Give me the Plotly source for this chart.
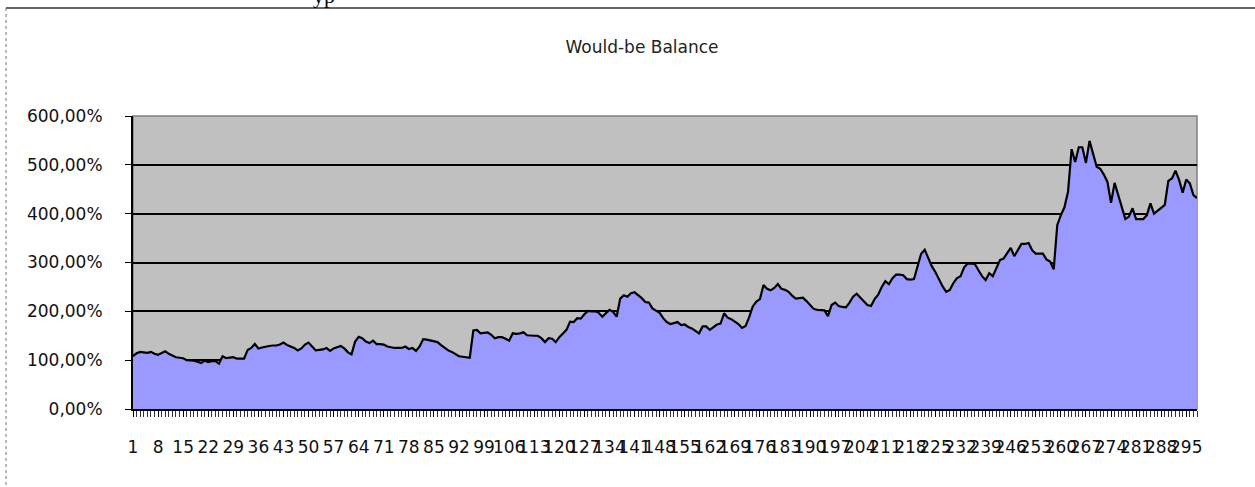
import plotly.graph_objects as go

# Would-be balance, in percent, one value per trading period (1..298)
balance_pct = [
    108, 114, 117, 116, 115, 117, 113, 111, 115, 118,
    113, 109, 106, 105, 104, 100, 100, 99, 97, 94,
    99, 96, 98, 98, 93, 108, 104, 105, 106, 103,
    103, 103, 121, 125, 133, 124, 126, 128, 129, 130,
    130, 132, 136, 131, 128, 125, 120, 124, 132, 136,
    128, 120, 121, 122, 125, 119, 124, 127, 129, 124,
    116, 112, 138, 148, 145, 138, 135, 140, 133, 133,
    132, 128, 126, 125, 125, 125, 128, 123, 125, 119,
    128, 143, 142, 140, 139, 137, 131, 126, 120, 117,
    112, 108, 107, 106, 105, 161, 162, 155, 156, 157,
    152, 145, 147, 147, 144, 140, 155, 154, 155, 157,
    151, 150, 150, 150, 145, 137, 145, 144, 137, 147,
    154, 162, 179, 178, 186, 185, 194, 201, 200, 200,
    197, 189, 196, 203, 199, 189, 226, 233, 230, 237,
    239, 233, 227, 219, 218, 206, 201, 197, 186, 178,
    174, 176, 178, 172, 173, 168, 165, 160, 155, 169,
    169, 162, 167, 173, 175, 196, 187, 184, 179, 174,
    166, 170, 188, 210, 220, 225, 254, 246, 243, 248,
    256, 246, 244, 240, 232, 226, 227, 228, 221, 214,
    205, 203, 202, 202, 190, 213, 218, 211, 209, 208,
    218, 230, 236, 229, 220, 213, 211, 225, 234, 250,
    262, 256, 268, 275, 275, 274, 266, 265, 266, 290,
    318, 326, 308, 292, 280, 265, 251, 240, 244, 258,
    268, 272, 290, 298, 297, 297, 284, 272, 264, 278,
    272, 290, 305, 308, 318, 330, 313, 325, 338, 338,
    340, 325, 318, 318, 318, 306, 302, 286, 377, 397,
    413, 445, 532, 506, 536, 536, 504, 549, 524, 496,
    492, 480, 465, 422, 463, 438, 412, 389, 394, 411,
    389, 389, 389, 397, 421, 400, 407, 412, 418, 467,
    472, 488, 469, 443, 470, 462, 438, 432,
]
periods = list(range(1, len(balance_pct) + 1))

# x labels every 7th period, as in the spreadsheet
x_ticks = list(range(1, 296, 7))
x_labels = [str(v) for v in x_ticks]
y_ticks = [0, 1, 2, 3, 4, 5, 6]

W, H = 1255, 487
L, R, T, B = 133, 58, 116, 78
pw, ph = W - L - R, H - T - B


def px_x(v):
    return (v - L) / pw


def px_y(v):
    return (H - B - v) / ph


fig = go.Figure()
fig.add_trace(go.Scatter(x=periods, y=[v / 100 for v in balance_pct], mode='lines',
                         fill='tozeroy', fillcolor='#9999FF',
                         line=dict(color='black', width=2.2), hoverinfo='x+y'))

fig.update_layout(
    width=W, height=H,
    margin=dict(l=L, r=R, t=T, b=B),
    paper_bgcolor='white', plot_bgcolor='#C0C0C0',
    separators=', ',
    showlegend=False,
    font=dict(family='DejaVu Sans', size=17, color='#111111'),
    title=dict(text='Would-be Balance', x=642 / W, xanchor='center', xref='container',
               y=1 - 47 / H, yanchor='middle', yref='container',
               font=dict(family='DejaVu Sans', size=17, color='#222222')),
)
fig.update_xaxes(range=[1, len(balance_pct)], tickvals=x_ticks, ticktext=x_labels,
                 tickangle=0, showgrid=False, zeroline=False,
                 showline=True, linecolor='black', linewidth=2,
                 ticks='outside', ticklen=6, tickcolor='black',
                 minor=dict(dtick=1, tick0=1, ticks='outside', ticklen=6, tickcolor='#333333', showgrid=False),
                 ticklabelstandoff=16, tickfont=dict(size=17))
fig.update_yaxes(range=[0, 6], tickvals=y_ticks, tickformat='.2%',
                 showgrid=True, gridcolor='black', gridwidth=1.5, zeroline=False,
                 showline=True, linecolor='black', linewidth=2,
                 ticks='outside', ticklen=6, tickcolor='black',
                 ticklabelstandoff=19, tickfont=dict(size=17))

# plot area border and the outer chart frame
fig.add_shape(type='rect', xref='paper', yref='paper', x0=0, x1=1, y0=0, y1=1,
              line=dict(color='#808080', width=1.5), layer='below')
fig.add_shape(type='line', xref='paper', yref='paper', x0=px_x(6), x1=px_x(W), y0=px_y(8), y1=px_y(8),
              line=dict(color='#333333', width=1.5))
fig.add_shape(type='line', xref='paper', yref='paper', x0=px_x(6), x1=px_x(6), y0=px_y(8), y1=px_y(H),
              line=dict(color='#777777', width=1, dash='dot'))
# clipped text of the page above the chart
fig.add_annotation(text='yp', xref='paper', yref='paper', x=px_x(311), y=px_y(10),
                   xanchor='left', yanchor='bottom', showarrow=False,
                   font=dict(family='Liberation Serif', size=22, color='black'))

# the page has a default 8px body margin; drop it so the chart sits at the window corner
fig.write_html("out.html", config={'displayModeBar': False},
               post_script="document.body.style.margin='0';")
